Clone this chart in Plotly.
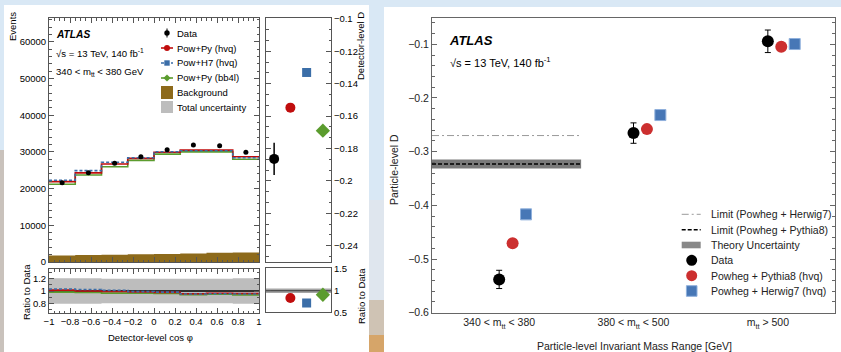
import plotly.graph_objects as go

W, H = 841, 352

# ---------------- data ----------------
cos_edges = [-1.0, -0.75, -0.5, -0.25, 0.0, 0.25, 0.5, 0.75, 1.0]
cos_centers = [-0.875, -0.625, -0.375, -0.125, 0.125, 0.375, 0.625, 0.875]
data_events = [21600, 24300, 26900, 28700, 30600, 31900, 31700, 29900]
data_events_err = [250, 260, 270, 280, 290, 300, 300, 290]
powpy_hvq = [21900, 24300, 26700, 28250, 29900, 30500, 30500, 28700]
powh7_hvq = [22300, 24900, 27170, 28400, 30060, 30300, 30300, 28400]
powpy_bb4l = [21200, 23700, 25970, 27700, 29400, 30000, 30000, 28000]
background = [1800, 1900, 2000, 2100, 2200, 2350, 2500, 2600]
total_unc_rel = [0.21, 0.21, 0.2, 0.2, 0.2, 0.2, 0.2, 0.21]

det_labels = ["Data", "Pow+Py (hvq)", "Pow+H7 (hvq)", "Pow+Py (bb4l)"]
det_pos = [0.5, 1.5, 2.5, 3.5]
det_D = [-0.1864, -0.1548, -0.1331, -0.169]
det_D_data_err = 0.01

mass_bins = ["340 &lt; m<sub>tt</sub> &lt; 380", "380 &lt; m<sub>tt</sub> &lt; 500", "m<sub>tt</sub> &gt; 500"]
mass_pos = [0.5, 1.5, 2.5]
model_offsets = [0.1, 0.2]
part_D_data = [-0.538, -0.2654, -0.0944]
part_D_err = [0.017, 0.019, 0.021]
part_D_powpy = [-0.4708, -0.258, -0.1045]
part_D_powh7 = [-0.4168, -0.2318, -0.0995]
limit_h7 = -0.27
limit_py = -0.323
theory_unc = 0.0085
limit_xmax = 1.11

# ---------------- styles ----------------
RED, BLUE, GREEN, BROWN, UNC = "#c00d0d", "#3b6ea8", "#5b9c2e", "#8d6a1b", "#bdbdbd"
RED2, BLUE2 = "#cc2f2f", "#4777b6"
FONT = "Liberation Sans, Arial, Helvetica, sans-serif"
AX = "#555555"


def dx(px):
    return px / W


def dy(py):
    return 1 - py / H


def steps(vals):
    return cos_edges, list(vals) + [vals[-1]]


fig = go.Figure()

# ---- left main panel ----
x, y = steps(background)
fig.add_trace(go.Scatter(x=x, y=y, mode="lines", line_shape="hv", fill="tozeroy", fillcolor=BROWN,
                         line=dict(width=0, color=BROWN), xaxis="x", yaxis="y", hoverinfo="skip"))
for vals, col, dash in [(powpy_bb4l, GREEN, "solid"), (powpy_hvq, RED, "solid"), (powh7_hvq, BLUE, "3px,2px")]:
    x, y = steps(vals)
    fig.add_trace(go.Scatter(x=x, y=y, line_shape="hv", mode="lines",
                             line=dict(color=col, width=1.6, dash=dash), xaxis="x", yaxis="y"))
fig.add_trace(go.Scatter(x=cos_centers, y=data_events, mode="markers",
                         marker=dict(color="black", size=5),
                         error_y=dict(type="data", array=data_events_err, color="black", thickness=1, width=0),
                         xaxis="x", yaxis="y"))

# ---- left ratio panel ----
lo = [1 - u for u in total_unc_rel]
hi = [1 + u for u in total_unc_rel]
x, y = steps(lo)
fig.add_trace(go.Scatter(x=x, y=y, line_shape="hv", mode="lines", line=dict(width=0, color=UNC),
                         xaxis="x2", yaxis="y2"))
x, y = steps(hi)
fig.add_trace(go.Scatter(x=x, y=y, line_shape="hv", mode="lines", line=dict(width=0, color=UNC),
                         fill="tonexty", fillcolor=UNC, xaxis="x2", yaxis="y2"))
x, y = steps([d / d for d in data_events])
fig.add_trace(go.Scatter(x=x, y=y, line_shape="hv", mode="lines", line=dict(color="black", width=1.5),
                         xaxis="x2", yaxis="y2"))
for vals, col, dash in [(powpy_bb4l, GREEN, "solid"), (powpy_hvq, RED, "solid"), (powh7_hvq, BLUE, "3px,2px")]:
    x, y = steps([p / d for p, d in zip(vals, data_events)])
    fig.add_trace(go.Scatter(x=x, y=y, line_shape="hv", mode="lines",
                             line=dict(color=col, width=1.6, dash=dash), xaxis="x2", yaxis="y2"))

# ---- detector-level D panel ----
det_symbols = ["circle", "circle", "square", "diamond"]
det_colors = ["black", RED, BLUE, GREEN]
det_sizes = [10, 10, 9, 11]
for i in range(4):
    fig.add_trace(go.Scatter(
        x=[det_pos[i]], y=[det_D[i]], mode="markers",
        marker=dict(symbol=det_symbols[i], color=det_colors[i], size=det_sizes[i], line=dict(width=0)),
        error_y=dict(type="data", array=[det_D_data_err], color="black", thickness=1.5, width=0, visible=(i == 0)),
        xaxis="x3", yaxis="y3"))
# ratio
rel = det_D_data_err / abs(det_D[0])
fig.add_trace(go.Scatter(x=[0, 4], y=[1 - rel, 1 - rel], mode="lines", line=dict(width=0, color="#a5a5a5"),
                         xaxis="x4", yaxis="y4"))
fig.add_trace(go.Scatter(x=[0, 4], y=[1 + rel, 1 + rel], mode="lines", line=dict(width=0, color="#a5a5a5"),
                         fill="tonexty", fillcolor="#a5a5a5", xaxis="x4", yaxis="y4"))
fig.add_trace(go.Scatter(x=[0, 4], y=[det_D[0] / det_D[0]] * 2, mode="lines", line=dict(color="#333", width=1.2),
                         xaxis="x4", yaxis="y4"))
for i in range(1, 4):
    fig.add_trace(go.Scatter(
        x=[det_pos[i]], y=[det_D[i] / det_D[0]], mode="markers",
        marker=dict(symbol=det_symbols[i], color=det_colors[i], size=det_sizes[i], line=dict(width=0)),
        xaxis="x4", yaxis="y4"))

# ---- particle-level panel ----
fig.add_trace(go.Scatter(x=[0, limit_xmax, limit_xmax, 0],
                         y=[limit_py - theory_unc, limit_py - theory_unc, limit_py + theory_unc, limit_py + theory_unc],
                         fill="toself", fillcolor="#7a7a7a", mode="lines", line=dict(width=0),
                         xaxis="x5", yaxis="y5"))
fig.add_trace(go.Scatter(x=[0, limit_xmax], y=[limit_py, limit_py], mode="lines",
                         line=dict(color="black", width=1.5, dash="4px,2px"), xaxis="x5", yaxis="y5"))
fig.add_trace(go.Scatter(x=[0, limit_xmax], y=[limit_h7, limit_h7], mode="lines",
                         line=dict(color="#9a9a9a", width=1, dash="7px,3px,2px,3px"), xaxis="x5", yaxis="y5"))
fig.add_trace(go.Scatter(x=mass_pos, y=part_D_data, mode="markers",
                         marker=dict(color="black", size=12),
                         error_y=dict(type="data", array=part_D_err, color="black", thickness=1, width=3),
                         xaxis="x5", yaxis="y5"))
fig.add_trace(go.Scatter(x=[p + model_offsets[0] for p in mass_pos], y=part_D_powpy, mode="markers",
                         marker=dict(color=RED2, size=12), xaxis="x5", yaxis="y5"))
fig.add_trace(go.Scatter(x=[p + model_offsets[1] for p in mass_pos], y=part_D_powh7, mode="markers",
                         marker=dict(color=BLUE2, size=11, symbol="square", line=dict(color="#8fb0dc", width=1)),
                         xaxis="x5", yaxis="y5"))

# ---------------- axes ----------------
tickfont_s = dict(family=FONT, size=9.5, color="black")
tickfont_l = dict(family=FONT, size=10.5, color="#222")


def frame(**kw):
    d = dict(showline=True, linecolor=AX, linewidth=1, mirror="allticks", zeroline=False,
             showgrid=False, ticks="inside", tickcolor=AX, ticklen=5, tickfont=tickfont_s,
             exponentformat="none", separatethousands=False)
    d.update(kw)
    return d


fig.update_layout(
    width=W, height=H, template="none",
    margin=dict(l=0, r=0, t=0, b=0),
    paper_bgcolor="#d9e8f5", plot_bgcolor="white",
    showlegend=False, font=dict(family=FONT, color="black"),
    xaxis=frame(domain=[dx(49), dx(259)], range=[-1, 1], anchor="y", matches="x2", showticklabels=False,
                dtick=0.2, tick0=-1, minor=dict(ticks="inside", ticklen=2.5, dtick=0.05, tickcolor=AX)),
    yaxis=frame(domain=[dy(262), dy(18)], range=[0, 66500], anchor="x", dtick=10000, tickformat="d",
                minor=dict(ticks="inside", ticklen=2.5, dtick=2000, tickcolor=AX)),
    xaxis2=frame(domain=[dx(49), dx(259)], range=[-1, 1], anchor="y2", dtick=0.2, tick0=-1,
                 minor=dict(ticks="inside", ticklen=2.5, dtick=0.05, tickcolor=AX)),
    yaxis2=frame(domain=[dy(313), dy(269)], range=[0.64, 1.36], anchor="x2", tickvals=[0.8, 1, 1.2],
                 minor=dict(ticks="inside", ticklen=2.5, dtick=0.1, tickcolor=AX)),
    xaxis3=frame(domain=[dx(266), dx(331)], range=[0, 4], anchor="y3", ticks="", showticklabels=False),
    yaxis3=frame(domain=[dy(262), dy(18)], range=[-0.25, -0.0995], anchor="x3", side="right",
                 dtick=0.02, tick0=-0.1,
                 minor=dict(ticks="inside", ticklen=2.5, dtick=0.02 / 3, tickcolor=AX)),
    xaxis4=frame(domain=[dx(266), dx(331)], range=[0, 4], anchor="y4", ticks="", showticklabels=False),
    yaxis4=frame(domain=[dy(312.3), dy(268.3)], range=[0.5, 1.52], anchor="x4", side="right",
                 tickvals=[0.5, 1, 1.5]),
    xaxis5=frame(domain=[dx(432), dx(835)], range=[0, 3], anchor="y5", ticks="", mirror=True,
                 tickvals=mass_pos, ticktext=mass_bins, tickfont=tickfont_l, linecolor="#666"),
    yaxis5=frame(domain=[dy(312.7), dy(18)], range=[-0.6, -0.051], anchor="x5", dtick=0.1, tick0=-0.6,
                 tickfont=tickfont_l, linecolor="#666", tickcolor="#666",
                 minor=dict(ticks="inside", ticklen=3, dtick=0.02, tickcolor="#666")),
)

# ---------------- background / panels ----------------
shapes = [
    dict(type="rect", xref="paper", yref="paper", x0=0, x1=1, y0=0, y1=dy(200), fillcolor="#dfe6ee",
         line=dict(width=0), layer="below"),
    dict(type="rect", xref="paper", yref="paper", x0=dx(369), x1=dx(384), y0=0, y1=dy(300), fillcolor="#cfc3b4",
         line=dict(width=0), layer="below"),
    dict(type="rect", xref="paper", yref="paper", x0=dx(369), x1=dx(384), y0=0, y1=dy(335), fillcolor="#d6a569",
         line=dict(width=0), layer="below"),
    dict(type="rect", xref="paper", yref="paper", x0=0, x1=dx(4), y0=0, y1=dy(150), fillcolor="#c9c2bc",
         line=dict(width=0), layer="below"),
    dict(type="rect", xref="paper", yref="paper", x0=dx(4), x1=dx(369), y0=0, y1=dy(5), fillcolor="white",
         line=dict(width=0), layer="below"),
    dict(type="rect", xref="paper", yref="paper", x0=dx(384), x1=1, y0=0, y1=dy(7), fillcolor="white",
         line=dict(width=0), layer="below"),
]


def seg(x0, y0, x1, y1, color, width=1, dash="solid"):
    return dict(type="line", xref="paper", yref="paper", x0=dx(x0), y0=dy(y0), x1=dx(x1), y1=dy(y1),
                line=dict(color=color, width=width, dash=dash))


def box(x0, y0, x1, y1, color, kind="rect", lc=None):
    return dict(type=kind, xref="paper", yref="paper", x0=dx(x0), y0=dy(y1), x1=dx(x1), y1=dy(y0),
                fillcolor=color, line=dict(width=1 if lc else 0, color=lc or color))


def diamond(cx, cy, r, color):
    path = "M {},{} L {},{} L {},{} L {},{} Z".format(dx(cx), dy(cy - r), dx(cx + r), dy(cy), dx(cx), dy(cy + r),
                                                     dx(cx - r), dy(cy))
    return dict(type="path", xref="paper", yref="paper", path=path, fillcolor=color, line=dict(width=0))


# left legend keys
lx0, lx1, lcx = 161, 173, 167
left_rows = [33, 48, 63, 78, 92.5, 107]
shapes += [
    seg(lcx, 28.5, lcx, 37.5, "black", 1),
    box(lcx - 2.7, 33 - 2.7, lcx + 2.7, 33 + 2.7, "black", "circle"),
    seg(lx0, 48, lx1, 48, RED, 1.6),
    box(lcx - 3, 45, lcx + 3, 51, RED, "circle"),
    seg(lx0, 63, lx1, 63, BLUE, 1.6, "3px,2px"),
    box(lcx - 2.7, 60.3, lcx + 2.7, 65.7, BLUE),
    seg(lx0, 78, lx1, 78, GREEN, 1.6),
    diamond(lcx, 78, 3.6, GREEN),
    box(lx0, 86, lx1, 99, BROWN),
    box(lx0, 101, lx1, 113, UNC),
]
# right legend keys
rx0, rx1, rcx = 681.7, 700.7, 691.7
right_rows = [214.3, 229.7, 245, 260.3, 275.7, 291]
shapes += [
    seg(rx0, 214.3, rx1, 214.3, "#9a9a9a", 1, "7px,3px,2px,3px"),
    seg(rx0, 229.7, rx1, 229.7, "black", 1.5, "4px,2px"),
    box(rx0, 241.7, rx1, 248.3, "#888888"),
    box(rcx - 5.5, 260.3 - 5.5, rcx + 5.5, 260.3 + 5.5, "black", "circle"),
    box(rcx - 5.5, 275.7 - 5.5, rcx + 5.5, 275.7 + 5.5, RED2, "circle"),
    box(rcx - 5.3, 291 - 5.3, rcx + 5.3, 291 + 5.3, BLUE2, "rect", "#8fb0dc"),
]
fig.update_layout(shapes=shapes)

# ---------------- text ----------------
ann = []


def txt(s, px, py, size, xa="left", ya="middle", angle=0, color="black"):
    ann.append(dict(text=s, x=dx(px), y=dy(py), xref="paper", yref="paper", showarrow=False,
                    xanchor=xa, yanchor=ya, textangle=angle, font=dict(family=FONT, size=size, color=color)))


txt("<b><i>ATLAS</i></b>", 54, 35, 10.2)
txt("√s = 13 TeV, 140 fb<sup>-1</sup>", 54, 53, 9.6)
txt("340 &lt; m<sub>tt</sub> &lt; 380 GeV", 54, 72, 9.6)
left_labels = ["Data", "Pow+Py (hvq)", "Pow+H7 (hvq)", "Pow+Py (bb4l)", "Background", "Total uncertainty"]
for lab, r in zip(left_labels, left_rows):
    txt(lab, 175, r, 9.5)
txt("Events", 13, 27, 9.5, xa="center", angle=-90)
txt("Ratio to Data", 26, 292, 9.5, xa="center", angle=-90)
txt("Detector-level cos φ", 150, 337, 9.5, xa="center")
txt("Detector-level D", 361, 46, 9.5, xa="center", angle=-90)
txt("Ratio to Data", 361, 296, 9.5, xa="center", angle=-90)

txt("<b><i>ATLAS</i></b>", 447, 40, 13)
txt("√s = 13 TeV, 140 fb<sup>-1</sup>", 448, 62, 11)
right_labels = ["Limit (Powheg + Herwig7)", "Limit (Powheg + Pythia8)", "Theory Uncertainty", "Data",
                "Powheg + Pythia8 (hvq)", "Powheg + Herwig7 (hvq)"]
for lab, r in zip(right_labels, right_rows):
    txt(lab, 709, r, 10.5, color="#222")
txt("Particle-level D", 394, 170, 10.5, xa="center", angle=-90, color="#222")
txt("Particle-level Invariant Mass Range [GeV]", 634, 346, 10.5, xa="center", color="#222")

fig.update_layout(annotations=ann)
fig.write_html("out.html", config={"displayModeBar": False},
               post_script="document.body.style.margin='0px';document.body.style.overflow='hidden';")
